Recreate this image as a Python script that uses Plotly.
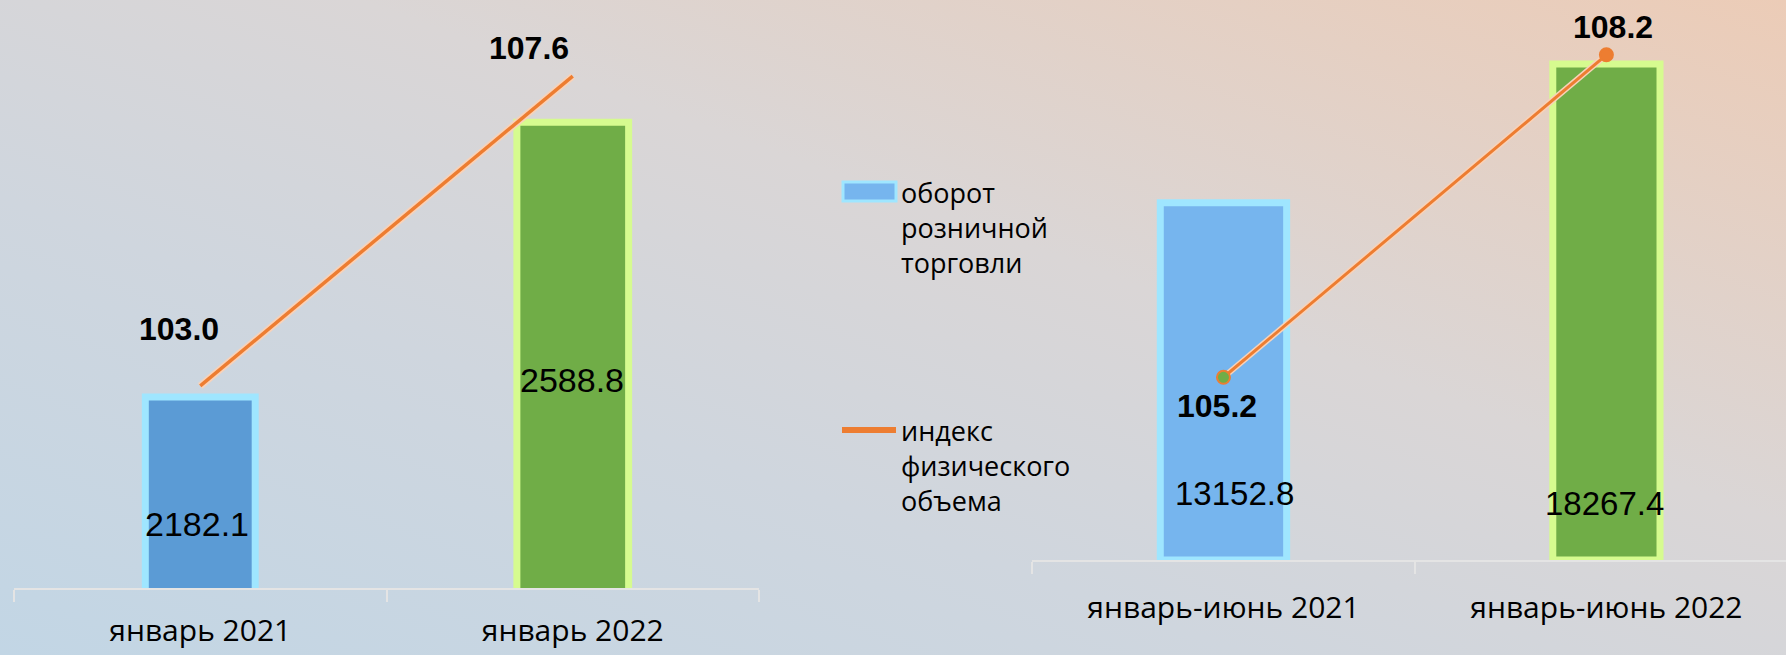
import base64
import plotly.graph_objects as go

# ---------------- data ----------------
left_categories = ["январь 2021", "январь 2022"]
left_turnover = [2182.1, 2588.8]
left_index = [103.0, 107.6]

right_categories = ["январь-июнь 2021", "январь-июнь 2022"]
right_turnover = [13152.8, 18267.4]
right_index = [105.2, 108.2]

legend_turnover = "оборот<br>розничной<br>торговли"
legend_index = "индекс<br>физического<br>объема"

# ---------------- styling ----------------
W, H = 1786, 655
BLUE_DARK = "#5b9bd5"
BLUE_LIGHT = "#76b5ee"
BLUE_EDGE = "#9fe6ff"
GREEN = "#70ad47"
GREEN_EDGE = "#d6fb8f"
ORANGE = "#ed7d31"
ORANGE_GLOW = "#f9d2b8"
NUM_FONT = "Liberation Sans, Arial, sans-serif"
TXT_FONT = "Open Sans, Noto Sans, sans-serif"


def px_x(x):
    return x / W


def px_y(y):
    return 1 - y / H


# background gradient as an svg image
svg = f"""<svg xmlns='http://www.w3.org/2000/svg' width='{W}' height='{H}' viewBox='0 0 {W} {H}' preserveAspectRatio='none'>
<defs><linearGradient id='g' x1='0' y1='1' x2='1' y2='0'>
<stop offset='0' stop-color='#c2d6e5'/>
<stop offset='0.35' stop-color='#cfd6de'/>
<stop offset='0.6' stop-color='#dad6d6'/>
<stop offset='1' stop-color='#ecccb7'/>
</linearGradient></defs>
<rect width='{W}' height='{H}' fill='url(#g)'/></svg>"""
bg_src = "data:image/svg+xml;base64," + base64.b64encode(svg.encode("utf-8")).decode()

fig = go.Figure()

# ---- left chart ----
fig.add_trace(go.Bar(
    x=left_categories, y=left_turnover, xaxis="x", yaxis="y",
    width=[0.295, 0.30],
    marker=dict(color=[BLUE_DARK, GREEN], line=dict(color=[BLUE_EDGE, GREEN_EDGE], width=7)),
    hoverinfo="x+y",
))
fig.add_trace(go.Scatter(
    x=left_categories, y=left_index, xaxis="x", yaxis="y2", mode="lines",
    line=dict(color=ORANGE_GLOW, width=7), hoverinfo="skip",
))
fig.add_trace(go.Scatter(
    x=left_categories, y=left_index, xaxis="x", yaxis="y2", mode="lines",
    line=dict(color=ORANGE, width=3.5),
))

# ---- right chart ----
fig.add_trace(go.Bar(
    x=right_categories, y=right_turnover, xaxis="x3", yaxis="y3",
    width=[0.33, 0.28],
    marker=dict(color=[BLUE_LIGHT, GREEN], line=dict(color=[BLUE_EDGE, GREEN_EDGE], width=7)),
    hoverinfo="x+y",
))
fig.add_trace(go.Scatter(
    x=right_categories, y=right_index, xaxis="x3", yaxis="y4", mode="lines",
    line=dict(color=ORANGE_GLOW, width=6), hoverinfo="skip",
))
fig.add_trace(go.Scatter(
    x=right_categories, y=right_index, xaxis="x3", yaxis="y4", mode="lines+markers",
    line=dict(color=ORANGE, width=3),
    marker=dict(size=13, color=[GREEN, ORANGE], line=dict(color=ORANGE, width=2)),
))

# ---- annotations (data labels) ----
ann = []
for i, (c, v) in enumerate(zip(left_categories, left_index)):
    shifts = [(-21, 57), (-44, 28)][i]
    ann.append(dict(x=c, y=v, xref="x", yref="y2", text=f"<b>{v:.1f}</b>", showarrow=False,
                    xshift=shifts[0], yshift=shifts[1],
                    font=dict(family=NUM_FONT, size=32, color="#000000")))
for i, (c, v) in enumerate(zip(left_categories, left_turnover)):
    ydom = [0.073, 0.354][i]
    xs = [-3, -1][i]
    ann.append(dict(x=c, y=ydom, xref="x", yref="y domain", text=f"{v:.1f}", showarrow=False,
                    xshift=xs, font=dict(family=NUM_FONT, size=34, color="#000000")))
for i, (c, v) in enumerate(zip(right_categories, right_index)):
    shifts = [(-6, -29), (7, 28)][i]
    ann.append(dict(x=c, y=v, xref="x3", yref="y4", text=f"<b>{v:.1f}</b>", showarrow=False,
                    xshift=shifts[0], yshift=shifts[1],
                    font=dict(family=NUM_FONT, size=32, color="#000000")))
for i, (c, v) in enumerate(zip(right_categories, right_turnover)):
    ydom = [0.082, 0.064][i]
    xs = [11, -2][i]
    ann.append(dict(x=c, y=ydom, xref="x3", yref="y3 domain", text=f"{v:.1f}", showarrow=False,
                    xshift=xs, font=dict(family=NUM_FONT, size=33, color="#000000")))

# ---- legend (drawn) ----
ann.append(dict(x=px_x(899), y=px_y(172), xref="paper", yref="paper", xanchor="left", yanchor="top",
                align="left", text=legend_turnover, showarrow=False,
                font=dict(family=TXT_FONT, size=27, color="#000000")))
ann.append(dict(x=px_x(899), y=px_y(410), xref="paper", yref="paper", xanchor="left", yanchor="top",
                align="left", text=legend_index, showarrow=False,
                font=dict(family=TXT_FONT, size=27, color="#000000")))
shapes = [
    dict(type="rect", xref="paper", yref="paper", x0=px_x(843), x1=px_x(896), y0=px_y(201), y1=px_y(182),
         fillcolor=BLUE_LIGHT, line=dict(color=BLUE_EDGE, width=3)),
    dict(type="line", xref="paper", yref="paper", x0=px_x(842), x1=px_x(896), y0=px_y(430), y1=px_y(430),
         line=dict(color=ORANGE, width=6)),
]

axis_common = dict(type="category", showgrid=False, zeroline=False, showline=True, automargin=False,
                   linecolor="#e4e4e4", linewidth=1.5, ticks="outside", tickson="boundaries",
                   ticklen=12, tickcolor="#e4e4e4", tickwidth=1.5,
                   tickfont=dict(family=TXT_FONT, size=30, color="#000000"))
yhidden = dict(visible=False, showgrid=False, zeroline=False, automargin=False)

fig.update_layout(
    width=W, height=H,
    margin=dict(l=0, r=0, t=0, b=0, pad=0),
    paper_bgcolor="#d6d6d8", plot_bgcolor="rgba(0,0,0,0)",
    showlegend=False, barmode="group",
    xaxis=dict(domain=[px_x(14), px_x(759)], range=[-0.5, 1.5], anchor="y",
               ticklabelstandoff=15, **axis_common),
    yaxis=dict(domain=[px_y(588), 1], range=[1899.6, 2769.6], **yhidden),
    yaxis2=dict(overlaying="y", range=[100, 108.73], **yhidden),
    xaxis3=dict(domain=[px_x(1032), 1], range=[-0.5, 1.469], anchor="y3",
                ticklabelstandoff=20, **axis_common),
    yaxis3=dict(domain=[px_y(560), 1], range=[0, 20620], anchor="x3", **yhidden),
    yaxis4=dict(overlaying="y3", anchor="x3", range=[103.5, 108.71], **yhidden),
    annotations=ann,
    shapes=shapes,
    images=[dict(source=bg_src, xref="paper", yref="paper", x=0, y=1, sizex=1, sizey=1,
                 sizing="stretch", xanchor="left", yanchor="top", layer="below")],
)

fig.write_html("out.html", config={"displayModeBar": False},
               post_script="document.body.style.margin='0';document.body.style.overflow='hidden';")
